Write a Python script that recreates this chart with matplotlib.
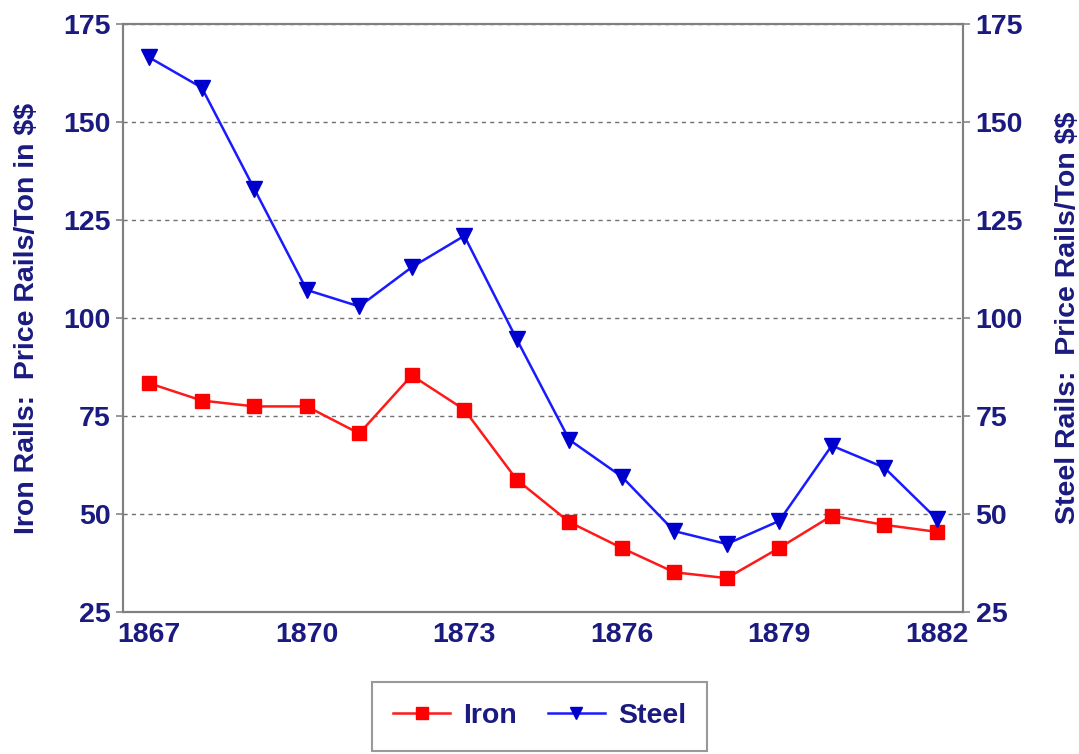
import numpy as np
import matplotlib
matplotlib.use("Agg")
import matplotlib.pyplot as plt

years = list(range(1867, 1883))
iron = [83.4, 79.0, 77.5, 77.5, 70.6, 85.4, 76.7, 58.8, 48.0, 41.4, 35.2, 33.7, 41.4, 49.6, 47.3, 45.5]
steel = [166.5, 158.8, 133.0, 107.2, 103.0, 113.0, 121.0, 94.6, 69.0, 59.6, 45.7, 42.4, 48.3, 67.5, 61.9, 48.8]
yticks = [25, 50, 75, 100, 125, 150, 175]
xticks = [1867, 1870, 1873, 1876, 1879, 1882]

navy = "#1a1a80"
plt.rcParams["font.family"] = ["Liberation Sans", "DejaVu Sans"]
plt.rcParams["font.weight"] = "bold"
plt.rcParams["text.parse_math"] = False

fig = plt.figure(figsize=(10.79, 7.54), dpi=100)
ax = fig.add_axes([0.114, 0.188, 0.7785, 0.780])
ax2 = ax.twinx()

l1, = ax.plot(years, iron, color="#ff1a1a", lw=1.8, marker="s", ms=10,
              mfc="#ff0000", mec="#ff0000", label="Iron")
l2, = ax2.plot(years, steel, color="#1a1aff", lw=1.8, marker="v", ms=11,
               mfc="#0000cc", mec="#0000cc", label="Steel")

for a in (ax, ax2):
    a.set_ylim(25, 175)
    a.set_yticks(yticks)
    a.set_xlim(1866.5, 1882.5)
    a.tick_params(axis="y", labelsize=20.5, labelcolor=navy, color="#888888",
                  length=5, width=1.2, pad=4)
for lab in ax.get_yticklabels() + ax2.get_yticklabels():
    lab.set_fontweight("bold")

ax.set_xticks(xticks)
ax.tick_params(axis="x", labelsize=20.5, labelcolor=navy, length=0, pad=7)
for lab in ax.get_xticklabels():
    lab.set_fontweight("bold")

for s in ax.spines.values():
    s.set_color("#808080")
    s.set_linewidth(1.5)
for s in ax2.spines.values():
    s.set_color("#808080")
    s.set_linewidth(1.5)

ax.yaxis.grid(True, linestyle=(0, (3, 3)), color="#707070", lw=1.0)
ax.set_axisbelow(True)

ax.set_ylabel("Iron Rails:  Price Rails/Ton in $$", fontsize=20.5,
              fontweight="bold", color=navy)
ax2.set_ylabel("Steel Rails:  Price Rails/Ton $$", fontsize=20.5,
               fontweight="bold", color=navy)
ax.yaxis.set_label_coords(-0.099, 0.5)
ax2.yaxis.set_label_coords(1.109, 0.5)

leg = fig.legend([l1, l2], ["Iron", "Steel"], loc="center",
                 bbox_to_anchor=(0.5, 0.05), ncol=2, frameon=True,
                 fancybox=False, edgecolor="#808080", fontsize=20.5,
                 handlelength=2.0, handletextpad=0.45, columnspacing=1.1,
                 borderpad=0.75, borderaxespad=0.3, markerscale=0.8)
leg.get_frame().set_linewidth(1.5)
for t in leg.get_texts():
    t.set_color(navy)
    t.set_fontweight("bold")

fig.savefig("out.png", dpi=100)
